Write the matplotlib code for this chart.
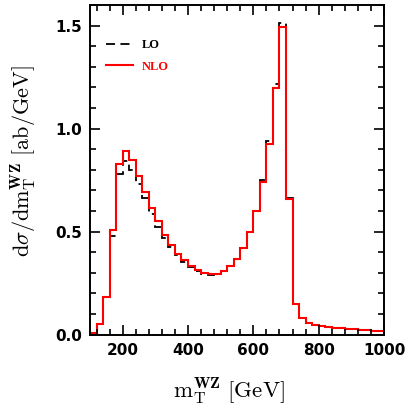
import numpy as np
import matplotlib
matplotlib.use("Agg")
import matplotlib.pyplot as plt
from matplotlib.ticker import MultipleLocator

# bin edges: 100..1000 GeV in 20 GeV bins
edges = list(range(100, 1001, 20))

nlo = [0.010, 0.053, 0.183, 0.506, 0.830, 0.890, 0.846, 0.770, 0.690, 0.615,
       0.550, 0.485, 0.434, 0.393, 0.361, 0.333, 0.312, 0.300, 0.296, 0.296,
       0.309, 0.332, 0.369, 0.422, 0.500, 0.600, 0.740, 0.924, 1.199, 1.494,
       0.660, 0.150, 0.081, 0.058, 0.045, 0.040, 0.036, 0.033, 0.030, 0.028,
       0.025, 0.023, 0.021, 0.019, 0.017]

lo = [0.010, 0.053, 0.183, 0.480, 0.780, 0.840, 0.800, 0.733, 0.663, 0.587,
      0.523, 0.470, 0.425, 0.385, 0.353, 0.328, 0.309, 0.296, 0.290, 0.293,
      0.307, 0.332, 0.369, 0.422, 0.500, 0.602, 0.750, 0.940, 1.215, 1.510,
      0.665, 0.150, 0.081, 0.058, 0.045, 0.040, 0.036, 0.033, 0.030, 0.028,
      0.025, 0.023, 0.021, 0.019, 0.017]

series_labels = ["LO", "NLO"]
xticks = [200, 400, 600, 800, 1000]
yticks = [0.0, 0.5, 1.0, 1.5]

plt.rcParams['mathtext.fontset'] = 'cm'

fig = plt.figure(figsize=(4.09, 4.09), dpi=100)
ax = fig.add_axes([0.22, 0.182, 0.719, 0.806])

ax.stairs(lo, edges, color='black', lw=1.3, ls=(0, (5, 3)), label=series_labels[0])
ax.stairs(nlo, edges, color='red', lw=1.5, label=series_labels[1])

ax.set_xlim(100, 1000)
ax.set_ylim(0, 1.6)
ax.set_xticks(xticks)
ax.set_yticks(yticks)
ax.set_yticklabels([f"{v:.1f}" for v in yticks])
ax.xaxis.set_minor_locator(MultipleLocator(40))
ax.yaxis.set_minor_locator(MultipleLocator(0.1))
ax.tick_params(which='both', direction='in', top=True, right=True, width=1.2)
ax.tick_params(which='major', length=7, labelsize=11, pad=6)
ax.tick_params(which='minor', length=4)
for lab in ax.get_xticklabels() + ax.get_yticklabels():
    lab.set_fontweight('bold')
for s in ax.spines.values():
    s.set_linewidth(1.4)

ax.set_xlabel(r'$\mathrm{m}_\mathrm{T}^{\mathbf{WZ}}\ \mathrm{[GeV]}$', fontsize=16.5)
ax.set_ylabel(r'$\mathrm{d}\sigma/\mathrm{dm}_\mathrm{T}^{\mathbf{WZ}}\ \mathrm{[ab/GeV]}$', fontsize=16)
ax.xaxis.set_label_coords(0.473, -0.125)
ax.yaxis.set_label_coords(-0.175, 0.527)

leg = ax.legend(loc='upper left', bbox_to_anchor=(0.015, 0.93), frameon=False,
                handlelength=2.2, handletextpad=0.7, labelspacing=0.75,
                prop={'family': 'Liberation Serif', 'weight': 'bold', 'size': 9})
leg.get_texts()[1].set_color('red')

fig.savefig("out.png", dpi=100)
